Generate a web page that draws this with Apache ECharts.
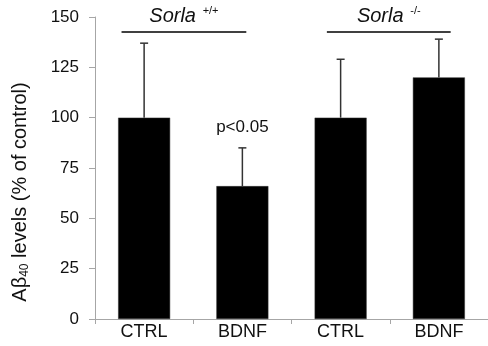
<!DOCTYPE html>
<html>
<head>
<meta charset="utf-8">
<script src="https://cdn.jsdelivr.net/npm/echarts@6/dist/echarts.min.js"></script>
<style>
  html, body { margin: 0; padding: 0; background: #fff; }
  #main { width: 488px; height: 346px; }
</style>
</head>
<body>
<div id="main"></div>
<script>
var categories = ['CTRL', 'BDNF', 'CTRL', 'BDNF'];
var means = [100, 66, 100, 120];
var errTops = [137, 85, 129, 139];
var notes = ['', 'p<0.05', '', ''];
var yTicks = [0, 25, 50, 75, 100, 125, 150];
// genotype brackets: start / end in category units, height in y units
var groupNames = ['Sorla', 'Sorla'];
var groupSups = ['+/+', '-/-'];
var groupStart = [-0.23, 1.86];
var groupEnd = [1.04, 3.12];
var groupY = [142.5, 142.5];

var font = '"Liberation Sans", Arial, sans-serif';
var chart = echarts.init(document.getElementById('main'));

var errData = categories.map(function (c, i) { return [i, means[i], errTops[i], notes[i]]; });
var groupData = groupNames.map(function (g, i) { return [groupStart[i], groupEnd[i], groupY[i], g, groupSups[i]]; });

var option = {
  backgroundColor: '#fff',
  animation: false,
  grid: { left: 95, right: -3, top: 17, bottom: 27 },
  xAxis: {
    type: 'category',
    data: categories,
    axisLine: { lineStyle: { color: '#a6a6a6', width: 1 } },
    axisTick: { show: true, length: 5, lineStyle: { color: '#a6a6a6' } },
    axisLabel: { color: '#111', fontSize: 18, fontFamily: font, margin: 4 }
  },
  yAxis: {
    type: 'value',
    min: yTicks[0],
    max: yTicks[yTicks.length - 1],
    interval: 25,
    splitLine: { show: false },
    axisLine: { show: true, lineStyle: { color: '#a6a6a6', width: 1 } },
    axisTick: { show: true, length: 6, lineStyle: { color: '#a6a6a6' } },
    axisLabel: { color: '#111', fontSize: 17, fontFamily: font, margin: 16 },
    name: 'Aβ{sub|40} levels (% of control)',
    nameLocation: 'middle',
    nameRotate: 90,
    nameGap: 64,
    nameTextStyle: {
      color: '#111', fontSize: 20, fontFamily: font,
      padding: [0, 48, 0, 0],
      rich: { sub: { fontSize: 12, fontFamily: font, color: '#111', verticalAlign: 'bottom', padding: [10, 0, 0, 0] } }
    }
  },
  series: [
    {
      type: 'bar',
      data: means,
      barWidth: 52,
      itemStyle: { color: '#000', borderColor: '#333', borderWidth: 0.5 },
      z: 2
    },
    {
      type: 'custom',
      data: errData,
      z: 3,
      renderItem: function (params, api) {
        var x = api.value(0);
        var p0 = api.coord([x, api.value(1)]);
        var p1 = api.coord([x, api.value(2)]);
        var st = { stroke: '#333', lineWidth: 1.5 };
        var kids = [
          { type: 'line', shape: { x1: p0[0], y1: p0[1], x2: p1[0], y2: p1[1] }, style: st },
          { type: 'line', shape: { x1: p1[0] - 4, y1: p1[1], x2: p1[0] + 4, y2: p1[1] }, style: st }
        ];
        var note = notes[params.dataIndex];
        if (note) {
          kids.push({
            type: 'text',
            style: {
              text: note, x: p1[0], y: p1[1] - 12,
              align: 'center', verticalAlign: 'bottom',
              fill: '#111', font: '17px ' + font
            }
          });
        }
        return { type: 'group', children: kids };
      }
    },
    {
      type: 'custom',
      data: groupData,
      z: 3,
      renderItem: function (params, api) {
        var band = api.size([1, 0])[0];
        var c = api.coord([0, api.value(2)]);
        var xa = c[0] + api.value(0) * band;
        var xb = c[0] + api.value(1) * band;
        var i = params.dataIndex;
        return {
          type: 'group',
          children: [
            { type: 'line', shape: { x1: xa, y1: c[1], x2: xb, y2: c[1] }, style: { stroke: '#000', lineWidth: 1.5 } },
            {
              type: 'text',
              style: {
                text: '{it|' + groupNames[i] + '}  {sup|' + groupSups[i] + '}',
                x: (xa + xb) / 2, y: c[1] - 4,
                align: 'center', verticalAlign: 'bottom',
                rich: {
                  it: { fontSize: 20, fontStyle: 'italic', fontFamily: font, fill: '#111' },
                  sup: { fontSize: 11, fontFamily: font, fill: '#111', verticalAlign: 'top', padding: [0, 0, 12, 0] }
                }
              }
            }
          ]
        };
      }
    }
  ]
};
chart.setOption(option);
</script>
</body>
</html>
